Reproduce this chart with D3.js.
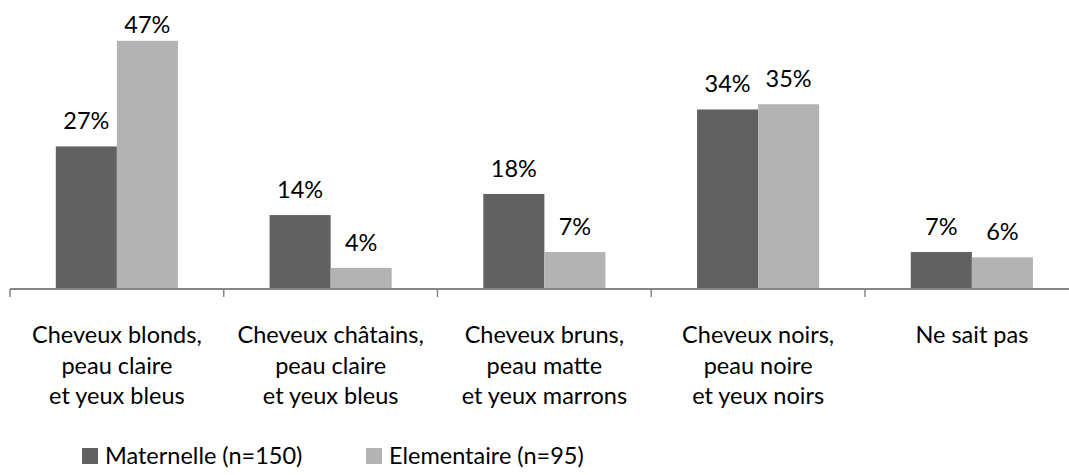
<!DOCTYPE html>
<html>
<head>
<meta charset="utf-8">
<script src="https://cdn.jsdelivr.net/npm/d3@7"></script>
<style>
  html, body { margin: 0; padding: 0; background: #fff; }
  svg { display: block; font-family: Lato, "Open Sans", sans-serif; }
</style>
</head>
<body>
<svg id="chart" width="1069" height="475"></svg>
<script>
const categories = [
  ["Cheveux blonds,", "peau claire", "et yeux bleus"],
  ["Cheveux châtains,", "peau claire", "et yeux bleus"],
  ["Cheveux bruns,", "peau matte", "et yeux marrons"],
  ["Cheveux noirs,", "peau noire", "et yeux noirs"],
  ["Ne sait pas"]
];
const seriesNames = ["Maternelle (n=150)", "Elementaire (n=95)"];
const maternelle = [27, 14, 18, 34, 7];
const elementaire = [47, 4, 7, 35, 6];
const seriesColors = ["#616161", "#b3b3b3"];

const svg = d3.select("#chart");
const catKeys = categories.map((c, i) => i);
const baseY = 289;

const x0 = d3.scaleBand().domain(catKeys).range([10, 10 + 5 * 213.75]).paddingInner(0).paddingOuter(0);
const x1 = d3.scaleBand().domain([0, 1]).range([0, x0.bandwidth()]).paddingInner(0).paddingOuter(0.75);
const y = d3.scaleLinear().domain([0, 50]).range([baseY, baseY - 50 * 5.28]);

const seriesValues = [maternelle, elementaire];
const data = [];
catKeys.forEach(ci => {
  seriesValues.forEach((vals, si) => data.push({ ci, si, v: vals[ci] }));
});

// bars
svg.append("g").selectAll("rect").data(data).join("rect")
  .attr("x", d => x0(d.ci) + x1(d.si))
  .attr("y", d => y(d.v))
  .attr("width", x1.bandwidth())
  .attr("height", d => baseY - y(d.v))
  .attr("fill", d => seriesColors[d.si]);

// value labels
svg.append("g").selectAll("text").data(data).join("text")
  .attr("x", d => x0(d.ci) + x1(d.si) + x1.bandwidth() / 2)
  .attr("y", d => Math.max(y(d.v) - 17, 33))
  .attr("text-anchor", "middle")
  .attr("font-size", 23.5)
  .attr("fill", "#000")
  .text(d => d.v + "%");

// axis line and ticks
const axisG = svg.append("g");
axisG.append("line")
  .attr("x1", x0.range()[0]).attr("x2", x0.range()[1])
  .attr("y1", baseY).attr("y2", baseY)
  .attr("stroke", "#868686").attr("stroke-width", 2);
const boundaries = catKeys.map(c => x0(c)).concat([x0.range()[1]]);
axisG.selectAll("line.tick").data(boundaries).join("line")
  .attr("class", "tick")
  .attr("x1", d => d).attr("x2", d => d)
  .attr("y1", baseY).attr("y2", baseY + 8)
  .attr("stroke", "#868686").attr("stroke-width", 1.5);

// category labels
const catG = svg.append("g").selectAll("text").data(categories).join("text")
  .attr("x", (d, i) => x0(i) + x0.bandwidth() / 2)
  .attr("y", 343)
  .attr("text-anchor", "middle")
  .attr("font-size", 23.5)
  .attr("fill", "#000");
catG.selectAll("tspan").data((d, i) => d.map(line => ({ line, i }))).join("tspan")
  .attr("x", d => x0(d.i) + x0.bandwidth() / 2)
  .attr("dy", (d, j) => j === 0 ? 0 : 30.5)
  .text(d => d.line);

// legend
const legendX = [82, 366];
const leg = svg.append("g").selectAll("g").data(seriesNames).join("g")
  .attr("transform", (d, i) => `translate(${legendX[i]},0)`);
leg.append("rect")
  .attr("x", 0).attr("y", 448).attr("width", 16).attr("height", 16)
  .attr("fill", (d, i) => seriesColors[i]);
leg.append("text")
  .attr("x", 23).attr("y", 464)
  .attr("font-size", 23.5)
  .attr("fill", "#000")
  .text(d => d);
</script>
</body>
</html>
